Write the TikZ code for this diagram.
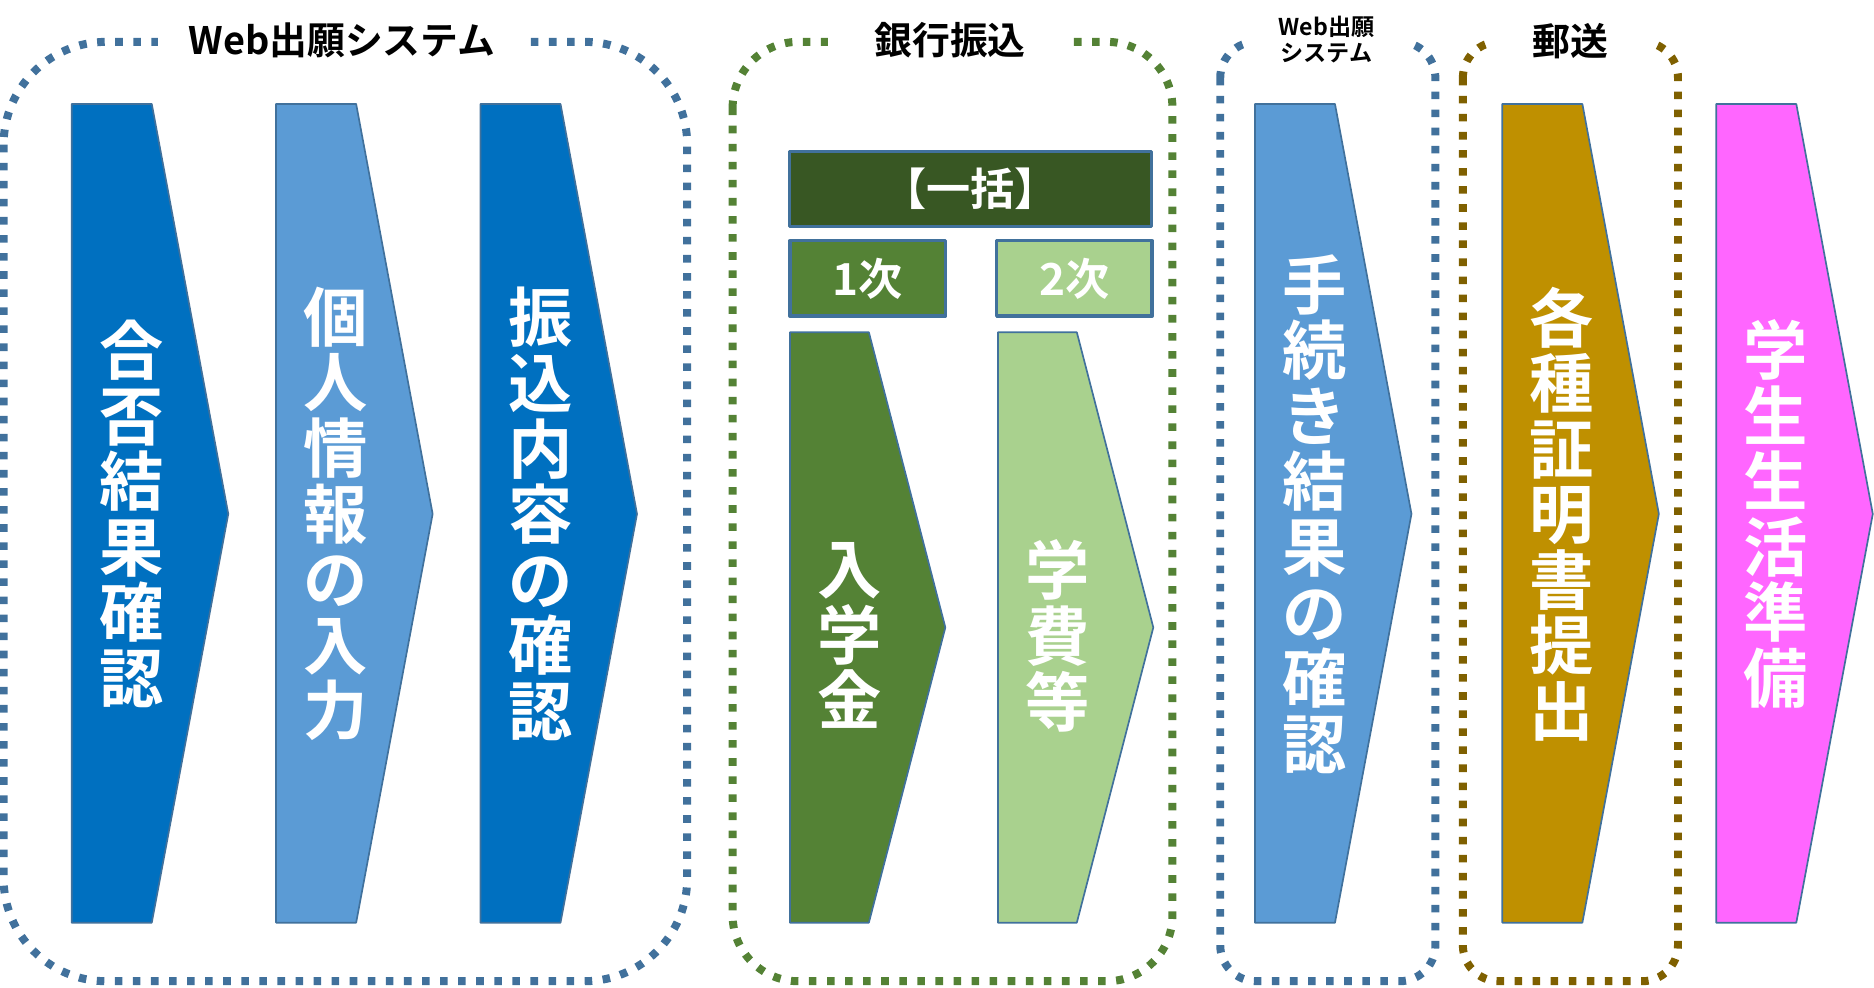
\documentclass[tikz,border=0pt]{standalone}
\usepackage{fontspec}
\setmainfont{Noto Sans CJK JP}[BoldFont={Noto Sans CJK JP Bold}]
\definecolor{frameblue}{HTML}{41719C}
\definecolor{dblue}{HTML}{0070C0}
\definecolor{lblue}{HTML}{5B9BD5}
\definecolor{fgreen}{HTML}{548235}
\definecolor{dgreen}{HTML}{385723}
\definecolor{lgreen}{HTML}{A9D18E}
\definecolor{fbrown}{HTML}{7F6000}
\definecolor{gold}{HTML}{BF9000}
\definecolor{pink}{HTML}{FF66FF}
\begin{document}
\begin{tikzpicture}[x=.01cm,y=-.01cm,line join=round,
	frame/.style={line width=1.9pt,dash pattern=on 1.8pt off 2.5pt},
	arr/.style={draw=frameblue,line width=.4pt},
	vtxt/.style={text=white,align=center,inner sep=0pt,font=\fontsize{15.3}{15.6}\selectfont\bfseries},
	ttl/.style={fill=white,inner sep=0pt,minimum height=12pt,font=\fontsize{9}{10}\selectfont\bfseries},
	pay/.style={draw=frameblue,line width=.8pt,text=white,minimum height=.63cm,font=\fontsize{10.5}{11}\selectfont\bfseries}]
	\useasboundingbox (0,0) rectangle (1568,826);
	% dotted frames
	\draw[frame,frameblue,rounded corners=.86cm] (3,35) rectangle (575,821);
	\draw[frame,fgreen,rounded corners=.55cm] (613,35) rectangle (981,821);
	\draw[frame,frameblue,rounded corners=.3cm] (1021,35) rectangle (1201,821);
	\draw[frame,fbrown,rounded corners=.3cm] (1224,35) rectangle (1404,821);
	\node[ttl,minimum width=3.07cm] (web) at (286,34) {Web出願システム};
	\node[ttl,minimum width=2.04cm] (bank) at (795,34) {銀行振込};
	\node[ttl,minimum width=1.36cm,align=center,font=\fontsize{5.5}{6.2}\selectfont\bfseries] (websub) at (1110,33) {Web出願\\システム};
	\node[ttl,minimum width=1.36cm] (post) at (1314,34) {郵送};
	% tall arrows
	\foreach \n/\x/\c/\t in {kekka/60/dblue/{合\\否\\結\\果\\確\\認},kojin/231/lblue/{個\\人\\情\\報\\の\\入\\力},furikomi/402/dblue/{振\\込\\内\\容\\の\\確\\認},tetsuzuki/1050/lblue/{手\\続\\き\\結\\果\\の\\確\\認},shomei/1257/gold/{各\\種\\証\\明\\書\\提\\出},seikatsu/1436/pink/{学\\生\\生\\活\\準\\備}}{
		\draw[arr,fill=\c] (\x,87)--++(67,0)--++(64,343)--++(-64,342)--++(-67,0)--cycle;
		\node[vtxt] (\n) at (\x+50,430) {\t};
	}
	% payments
	\node[pay,fill=dgreen,minimum width=3.03cm] (ikkatsu) at (812,158) {【一括】};
	\node[pay,fill=fgreen,minimum width=1.3cm] (ichiji) at (726,233) {1次};
	\node[pay,fill=lgreen,minimum width=1.3cm] (niji) at (899,233) {2次};
	\foreach \n/\x/\c/\t in {nyugaku/661/fgreen/{入\\学\\金},gakuhi/835/lgreen/{学\\費\\等}}{
		\draw[arr,fill=\c] (\x,278)--++(66,0)--++(64,247)--++(-64,247)--++(-66,0)--cycle;
		\node[vtxt] (\n) at (\x+50,532) {\t};
	}
\end{tikzpicture}
\end{document}
